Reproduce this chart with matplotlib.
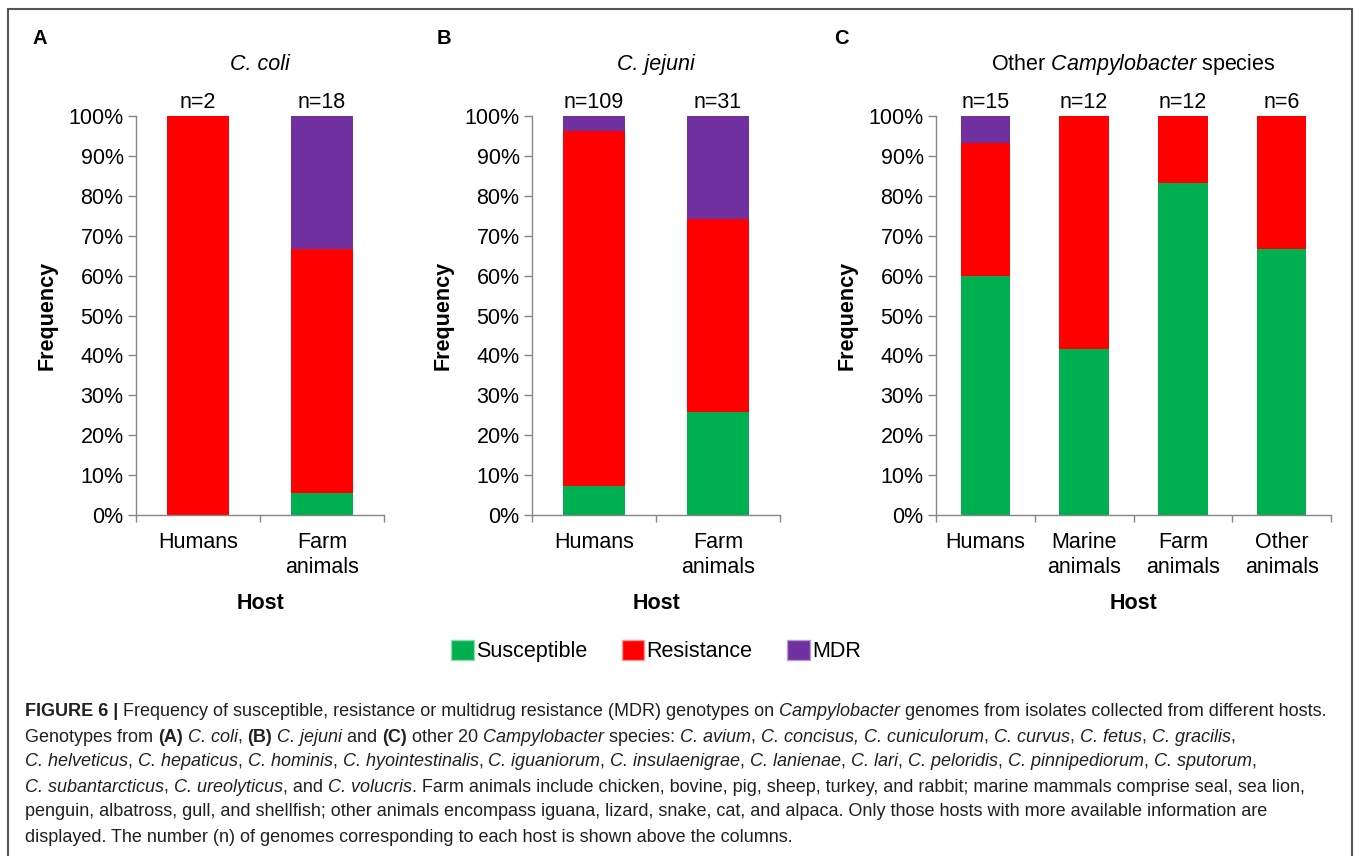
import re
import numpy as np
import matplotlib
matplotlib.use("Agg")
import matplotlib.pyplot as plt
from matplotlib.patches import Patch, Rectangle
from matplotlib.ticker import FuncFormatter

plt.rcParams['font.family'] = ['Liberation Sans', 'DejaVu Sans']
plt.rcParams['mathtext.fontset'] = 'custom'
plt.rcParams['mathtext.rm'] = 'Liberation Sans'
plt.rcParams['mathtext.it'] = 'Liberation Sans:italic'
plt.rcParams['mathtext.bf'] = 'Liberation Sans:bold'

# genotype frequencies (%) per host
hosts_coli = ['Humans', 'Farm\nanimals']
n_coli = [2, 18]
susc_coli = [0.0, 5.6]
res_coli = [100.0, 61.1]
mdr_coli = [0.0, 33.3]

hosts_jejuni = ['Humans', 'Farm\nanimals']
n_jejuni = [109, 31]
susc_jejuni = [7.3, 25.8]
res_jejuni = [89.0, 48.4]
mdr_jejuni = [3.7, 25.8]

hosts_other = ['Humans', 'Marine\nanimals', 'Farm\nanimals', 'Other\nanimals']
n_other = [15, 12, 12, 6]
susc_other = [60.0, 41.7, 83.3, 66.7]
res_other = [33.3, 58.3, 16.7, 33.3]
mdr_other = [6.7, 0.0, 0.0, 0.0]

GREEN = '#00B050'
RED = '#FF0000'
PURPLE = '#7030A0'
AXIS = '#868686'
FS = 15.5

W, H = 1360, 856
fig = plt.figure(figsize=(W / 100, H / 100), dpi=100)


def panel(rect, hosts, n, susc, res, mdr, letter, title, letter_x, italic):
    ax = fig.add_axes(rect)
    x = np.arange(len(hosts))
    ax.bar(x, susc, 0.5, color=GREEN)
    ax.bar(x, res, 0.5, bottom=susc, color=RED)
    ax.bar(x, mdr, 0.5, bottom=np.add(susc, res), color=PURPLE)
    ax.set_xlim(-0.5, len(hosts) - 0.5)
    ax.set_ylim(0, 100)
    ax.set_yticks(np.arange(0, 101, 10))
    ax.yaxis.set_major_formatter(FuncFormatter(lambda v, p: f"{v:.0f}%"))
    for s in ['top', 'right']:
        ax.spines[s].set_visible(False)
    for s in ['left', 'bottom']:
        ax.spines[s].set_color(AXIS)
        ax.spines[s].set_linewidth(1.0)
    ax.set_xticks(x, hosts, linespacing=1.25)
    ax.set_xticks(np.arange(len(hosts) + 1) - 0.5, minor=True)
    ax.tick_params(axis='x', which='major', length=0, pad=12, labelsize=FS)
    ax.tick_params(axis='x', which='minor', length=5, color=AXIS, width=1)
    ax.tick_params(axis='y', length=6, color=AXIS, width=1, pad=3, labelsize=FS)
    ax.set_ylabel('Frequency', fontsize=FS, fontweight='bold', labelpad=8)
    ax.set_xlabel('Host', fontsize=FS, fontweight='bold', labelpad=11)

    tops = np.add(np.add(susc, res), mdr)
    for xi, ni, t in zip(x, n, tops):
        ax.annotate(f"n={ni}", (xi, t), xytext=(0, 2), textcoords='offset points',
                    ha='center', va='bottom', fontsize=FS, annotation_clip=False)
    ax.annotate(title, (0.5, 1.0), xycoords='axes fraction', xytext=(0, 37),
                textcoords='offset points', ha='center', va='center', fontsize=FS,
                fontstyle='italic' if italic else 'normal')
    fig.text(letter_x / W, 1 - 38 / H, letter, fontsize=14.5, fontweight='bold',
             ha='center', va='center')
    return ax


bot = 1 - 515 / H
hgt = (515 - 116) / H
panel([136 / W, bot, (384 - 136) / W, hgt], hosts_coli, n_coli, susc_coli,
      res_coli, mdr_coli, 'A', 'C. coli', 40, True)
panel([532 / W, bot, (780 - 532) / W, hgt], hosts_jejuni, n_jejuni, susc_jejuni,
      res_jejuni, mdr_jejuni, 'B', 'C. jejuni', 444, True)
panel([936 / W, bot, (1331 - 936) / W, hgt], hosts_other, n_other, susc_other,
      res_other, mdr_other, 'C', r'Other $\it{Campylobacter}$ species', 841, False)

handles = [Patch(facecolor=GREEN, edgecolor='#8fd8ac'),
           Patch(facecolor=RED, edgecolor='#f59a9a'),
           Patch(facecolor=PURPLE, edgecolor='#b79ad2')]
fig.legend(handles, ['Susceptible', 'Resistance', 'MDR'], loc='center',
           bbox_to_anchor=(656 / W, 1 - 651 / H), ncol=3, frameon=False,
           fontsize=FS, handlelength=1.05, handleheight=1.05, handletextpad=0.1,
           columnspacing=1.6)

# frame around the chart area
fig.add_artist(Rectangle((8 / W, -0.05), (1352 - 8) / W, 1 - 9 / H + 0.05,
                         fill=False, ec='#555555', lw=1.5,
                         transform=fig.transFigure, clip_on=False))

# caption with bold / italic runs
caption = [
    "<b>FIGURE 6 | </b>Frequency of susceptible, resistance or multidrug resistance (MDR) "
    "genotypes on <i>Campylobacter</i> genomes from isolates collected from different hosts.",
    "Genotypes from <b>(A)</b> <i>C. coli</i>, <b>(B)</b> <i>C. jejuni</i> and <b>(C)</b> other 20 "
    "<i>Campylobacter</i> species: <i>C. avium</i>, <i>C. concisus, C. cuniculorum</i>, "
    "<i>C. curvus</i>, <i>C. fetus</i>, <i>C. gracilis</i>,",
    "<i>C. helveticus</i>, <i>C. hepaticus</i>, <i>C. hominis</i>, <i>C. hyointestinalis</i>, "
    "<i>C. iguaniorum</i>, <i>C. insulaenigrae</i>, <i>C. lanienae</i>, <i>C. lari</i>, "
    "<i>C. peloridis</i>, <i>C. pinnipediorum</i>, <i>C. sputorum</i>,",
    "<i>C. subantarcticus</i>, <i>C. ureolyticus</i>, and <i>C. volucris</i>. Farm animals include "
    "chicken, bovine, pig, sheep, turkey, and rabbit; marine mammals comprise seal, sea lion,",
    "penguin, albatross, gull, and shellfish; other animals encompass iguana, lizard, snake, "
    "cat, and alpaca. Only those hosts with more available information are",
    "displayed. The number (n) of genomes corresponding to each host is shown above the columns.",
]

renderer = fig.canvas.get_renderer()
CAP_FS = 13
CAP_COLOR = '#231f20'


def run_width(s, **props):
    t = fig.text(0, 0, "|" + s + "|", fontsize=CAP_FS, **props)
    w = t.get_window_extent(renderer).width
    t.set_text("||")
    w -= t.get_window_extent(renderer).width
    t.remove()
    return w


for i, line in enumerate(caption):
    y = 1 - (712 + 25 * i) / H
    x = 25.0
    for part in re.split(r'(<[bi]>.*?</[bi]>)', line):
        if not part:
            continue
        props = {}
        if part.startswith('<b>'):
            props['fontweight'] = 'bold'
            part = part[3:-4]
        elif part.startswith('<i>'):
            props['fontstyle'] = 'italic'
            part = part[3:-4]
        fig.text(x / W, y, part, fontsize=CAP_FS, color=CAP_COLOR, va='center',
                 ha='left', **props)
        x += run_width(part, **props)

fig.savefig('out.png', dpi=100)
